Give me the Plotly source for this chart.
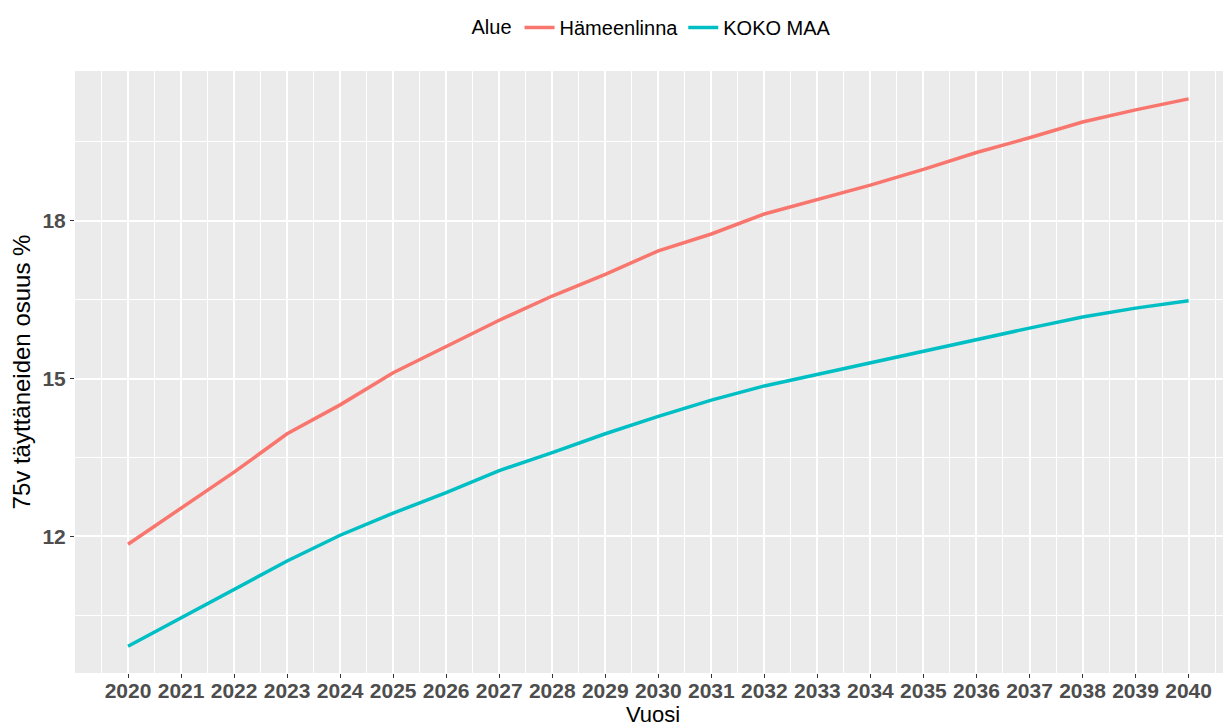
import plotly.graph_objects as go

RED = '#F8766D'
CYAN = '#00BFC4'
FONT = 'Liberation Sans, Arial, sans-serif'

years = list(range(2020, 2041))
hameenlinna = [11.85, 12.54, 13.22, 13.95, 14.50, 15.11, 15.61, 16.11, 16.57, 16.98,
               17.43, 17.75, 18.13, 18.40, 18.68, 18.98, 19.30, 19.58, 19.88, 20.11, 20.32]
koko_maa = [9.91, 10.45, 10.99, 11.53, 12.02, 12.44, 12.83, 13.25, 13.59, 13.95,
            14.28, 14.59, 14.86, 15.08, 15.31, 15.52, 15.75, 15.96, 16.17, 16.34, 16.48]
y_ticks = [12, 15, 18]

fig = go.Figure()
fig.add_scatter(x=years, y=hameenlinna, mode='lines', name='Hämeenlinna',
                line=dict(color=RED, width=3.5))
fig.add_scatter(x=years, y=koko_maa, mode='lines', name='KOKO MAA',
                line=dict(color=CYAN, width=3.5))

# page body has an 8px margin, so the figure is sized/offset to compensate
fig.update_layout(
    width=1223, height=719,
    margin=dict(l=67, r=0, t=58, b=54),
    plot_bgcolor='#EBEBEB', paper_bgcolor='white',
    font=dict(family=FONT, color='black'),
    legend=dict(orientation='h', x=0.5, xanchor='center', y=1.073, yanchor='middle',
                title=dict(text='Alue', font=dict(size=20)), font=dict(size=20),
                itemwidth=30),
    xaxis=dict(
        title=dict(text='Vuosi', font=dict(size=22), standoff=0),
        range=[2019, 2040.8], tickmode='array', tickvals=years, ticktext=[str(y) for y in years],
        ticks='outside', ticklen=4, tickcolor='#333333', tickwidth=1,
        tickfont=dict(size=21, color='#4D4D4D', weight='bold'), ticklabelstandoff=-5,
        showgrid=True, gridcolor='white', gridwidth=2, zeroline=False, showline=False,
        minor=dict(tick0=2019.5, dtick=1, showgrid=True, gridcolor='white', gridwidth=1, ticks=''),
        automargin=False,
    ),
    yaxis=dict(
        title=dict(text='75v täyttäneiden osuus %', font=dict(size=24), standoff=6),
        range=[9.40, 20.85], tickmode='array', tickvals=y_ticks,
        ticks='outside', ticklen=4, tickcolor='#333333', tickwidth=1,
        tickfont=dict(size=21, color='#4D4D4D', weight='bold'),
        showgrid=True, gridcolor='white', gridwidth=2, zeroline=False, showline=False,
        minor=dict(tick0=10.5, dtick=3, showgrid=True, gridcolor='white', gridwidth=1, ticks=''),
        automargin=False,
    ),
)

fig.write_html("out.html")
